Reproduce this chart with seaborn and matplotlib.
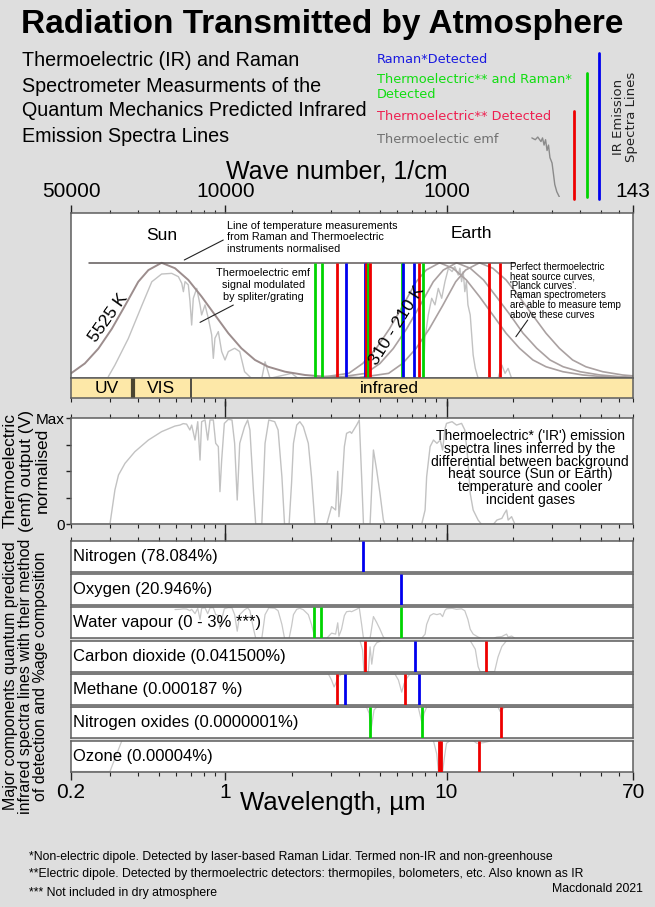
import matplotlib
matplotlib.use("Agg")
import matplotlib.pyplot as plt
import matplotlib.ticker as mticker
import numpy as np
import seaborn as sns

# ---------------- data (wavelength in micrometres) ----------------
WL_MIN, WL_MAX = 0.2, 70
label_wl = [0.2, 1, 10, 70]
wavenumber_labels = ["50000", "10000", "1000", "143"]
wavelength_labels = ["0.2", "1", "10", "70"]

# Planck curves (normalised height in the top panel)
sun_wl = [0.2, 0.231, 0.266, 0.306, 0.351, 0.403, 0.448, 0.514, 0.591, 0.679, 0.78,
          0.896, 1.03, 1.18, 1.36, 1.56, 1.86, 2.29, 2.82, 4.0, 6.0]
sun_val = [0.03, 0.09, 0.18, 0.30, 0.44, 0.585, 0.656, 0.70, 0.667, 0.596, 0.495,
           0.384, 0.273, 0.182, 0.111, 0.07, 0.04, 0.02, 0.01, 0.003, 0.0]
earth_val = [0.005, 0.03, 0.09, 0.18, 0.30, 0.44, 0.585, 0.656, 0.70, 0.667, 0.596,
             0.495, 0.384, 0.273, 0.182, 0.111, 0.07, 0.04, 0.02, 0.01, 0.003]
earth310_wl = [2.68, 3.61, 4.18, 4.80, 5.52, 6.34, 7.29, 8.09, 9.30, 10.7, 12.3,
               14.1, 16.2, 18.6, 21.4, 24.6, 28.2, 33.6, 41.4, 50.9, 70]
earth260_wl = [3.20, 4.31, 5.00, 5.74, 6.60, 7.58, 8.71, 9.67, 11.1, 12.8, 14.7,
               16.8, 19.4, 22.2, 25.6, 29.4, 33.7, 40.2, 49.5, 60.8, 83.6]
earth210_wl = [4.06, 5.47, 6.33, 7.27, 8.36, 9.60, 11.0, 12.2, 14.1, 16.2, 18.6,
               21.3, 24.5, 28.2, 32.4, 37.2, 42.7, 50.9, 62.7, 77.1, 106]
norm_line_wl = [0.241, 20.4]
norm_line_val = [0.70, 0.70]

# thermoelectric emf measured under the Sun and Earth curves
sun_emf_wl = [0.295, 0.316, 0.363, 0.418, 0.464, 0.514, 0.571, 0.612, 0.634, 0.645,
              0.656, 0.679, 0.691, 0.703, 0.715, 0.741, 0.767, 0.78, 0.808, 0.836,
              0.866, 0.881, 0.896, 0.928, 0.961, 0.995, 1.03, 1.10, 1.16, 1.22,
              1.31, 1.46, 1.51, 1.59, 1.99, 2.13]
sun_emf_val = [0.01, 0.08, 0.24, 0.44, 0.585, 0.632, 0.636, 0.616, 0.576, 0.525,
               0.586, 0.566, 0.465, 0.323, 0.485, 0.545, 0.445, 0.384, 0.445, 0.364,
               0.263, 0.121, 0.243, 0.283, 0.162, 0.111, 0.162, 0.182, 0.162, 0.04,
               0.0, 0.0, 0.10, 0.0, 0.03, 0.0]
earth_emf_wl = [7.85, 7.99, 8.27, 8.57, 8.87, 9.18, 9.51, 9.84, 10.2, 10.6, 10.9,
                11.3, 11.5, 11.7, 11.9, 12.1, 12.3, 12.5, 12.8, 13.0, 13.2, 13.5,
                13.9, 17.1, 17.8, 18.4, 19.0, 19.7]
earth_emf_val = [0.0, 0.242, 0.384, 0.485, 0.445, 0.545, 0.485, 0.586, 0.667, 0.647,
                 0.677, 0.626, 0.667, 0.586, 0.647, 0.525, 0.586, 0.445, 0.384, 0.263,
                 0.141, 0.06, 0.0, 0.0, 0.08, 0.03, 0.06, 0.0]

# spectral lines drawn in the top panel
top_lines_wl = [2.54, 2.73, 3.21, 3.50, 4.27, 4.33, 4.42, 4.50, 6.27, 6.38, 7.14,
                7.50, 7.79, 15.6, 17.5]
top_lines_kind = ["both", "both", "thermo", "raman", "raman", "thermo", "both", "thermo",
                  "both", "raman", "raman", "thermo", "both", "thermo", "thermo"]

# spectral bands
band_edges = [0.2, 0.38, 0.70, 70]
band_names = ["UV", "VIS", "infrared"]
band_label_wl = [0.29, 0.51, 5.5]

# middle panel: thermoelectric output (normalised)
emf_wl = [0.2, 0.300, 0.316, 0.328, 0.351, 0.389, 0.448, 0.514, 0.591, 0.622, 0.644,
          0.667, 0.69, 0.703, 0.728, 0.749, 0.767, 0.78, 0.808, 0.831, 0.851, 0.881,
          0.903, 0.928, 0.944, 0.961, 0.988, 1.03, 1.07, 1.10, 1.13, 1.16, 1.22,
          1.26, 1.29, 1.34, 1.37, 1.46, 1.51, 1.57, 1.67, 1.73, 1.80, 1.85, 1.94,
          1.99, 2.03, 2.10, 2.17, 2.25, 2.37, 2.45, 2.54, 2.87, 3.02, 3.15, 3.22,
          3.26, 3.35, 3.45, 3.53, 3.66, 3.72, 3.92, 4.03, 4.13, 4.21, 4.51, 4.67,
          4.83, 5.0, 5.18, 5.27, 7.72, 8.0, 8.13, 8.43, 8.73, 9.05, 9.37, 9.6, 9.84,
          10.0, 10.6, 11.1, 11.7, 12.1, 12.5, 12.8, 13.2, 13.9, 14.4, 16.3, 16.9,
          17.8, 18.3, 18.7, 19.0, 19.7, 20.4, 70]
emf_val = [0, 0, 0.324, 0.465, 0.575, 0.685, 0.795, 0.874, 0.927, 0.936, 0.95,
           0.945, 0.89, 0.936, 0.795, 0.968, 0.606, 0.968, 0.984, 0.795, 0.984, 0.984,
           0.764, 0.733, 0.308, 0.606, 0.952, 0.99, 0.984, 0.764, 0.229, 0.764, 0.921,
           0.984, 0.89, 0.292, 0, 0, 0.764, 0.984, 0.968, 0.89, 0.448, 0, 0,
           0.385, 0.764, 0.936, 0.968, 0.921, 0.764, 0.448, 0, 0, 0.167, 0.135, 0.5,
           0.072, 0.292, 0.733, 0.858, 0.874, 0.858, 0.936, 0.984, 0.448, 0, 0, 0.701,
           0.512, 0.292, 0.04, 0, 0, 0.135, 0.448, 0.733, 0.795, 0.764, 0.795, 0.70, 0.9,
           0.952, 0.968, 0.936, 0.952, 0.89, 0.606, 0.292, 0.135, 0.04, 0, 0, 0.04,
           0.056, 0.104, 0.135, 0.04, 0.072, 0, 0]

# gases: label, spectral lines and their detection method
gas_names = ["Nitrogen (78.084%)", "Oxygen (20.946%)", "Water vapour (0 - 3% ***)",
             "Carbon dioxide (0.041500%)", "Methane (0.000187 %)",
             "Nitrogen oxides (0.0000001%)", "Ozone (0.00004%)"]
n2_lines = [4.2]
n2_kind = ["raman"]
o2_lines = [6.2]
o2_kind = ["raman"]
h2o_lines = [2.52, 2.71, 6.2]
h2o_kind = ["both", "both", "both"]
co2_lines = [4.27, 7.21, 15.05]
co2_kind = ["thermo", "raman", "thermo"]
ch4_lines = [3.18, 3.48, 6.49, 7.5]
ch4_kind = ["thermo", "raman", "thermo", "raman"]
nox_lines = [4.52, 7.72, 17.6]
nox_kind = ["both", "both", "thermo"]
o3_lines = [9.25, 9.45, 14.1]
o3_kind = ["thermo", "thermo", "thermo"]

# faint absorption traces behind the gas rows
co2_wl = [0.2, 4.06, 4.17, 4.23, 4.43, 4.51, 4.59, 4.70, 4.83, 5.09, 12.8, 13.5, 13.9,
          14.2, 16.5, 17.1, 17.8, 18.7, 70]
co2_gray = [1, 1, 0.70, 0, 0, 0.8, 0.24, 0.8, 0.93, 1, 1, 0.72, 0.16, 0, 0, 0.47, 0.81, 1, 1]
ch4_wl = [0.2, 2.92, 3.02, 3.10, 3.16, 3.24, 3.36, 5.84, 6.06, 6.27, 6.43, 6.61, 6.83, 70]
ch4_gray = [1, 1, 0.8, 0.58, 0.71, 0.91, 1, 1, 0.8, 0.41, 0.69, 0.86, 1, 1]
nox_wl = [0.2, 4.35, 4.47, 4.54, 4.60, 4.70, 4.83, 7.45, 7.63, 7.75, 7.91, 8.13, 17.1,
          17.5, 18.1, 18.4, 70]
nox_gray = [1, 1, 0.8, 0.24, 0.47, 0.91, 1, 1, 0.69, 0.47, 0.8, 1, 1, 0.86, 0.97, 1, 1]
o3_wl = [0.2, 0.30, 0.34, 8.72, 9.03, 9.19, 9.61, 9.78, 10.0, 10.4, 13.2, 13.7, 14.7,
         15.5, 16.0, 70]
o3_gray = [0, 0, 1, 1, 0.57, 0, 0, 0.45, 0.91, 1, 1, 0.91, 0.93, 0.97, 1, 1]

footnotes = [
    "*Non-electric dipole. Detected by laser-based Raman Lidar. Termed non-IR and non-greenhouse",
    "**Electric dipole. Detected by thermoelectric detectors: thermopiles, bolometers, etc. Also known as IR",
    "*** Not included in dry atmosphere",
]

# ---------------- style ----------------
BG = "#dedede"
EDGE = "#5e5e5e"
TICK = "#222222"
KIND_COLOR = {"raman": "#0000ee", "both": "#00d400", "thermo": "#ee0000"}
EMF_GRAY = "#c2c2c2"

sns.set_theme(style="white")
plt.rcParams["font.family"] = ["Liberation Sans", "DejaVu Sans"]
plt.rcParams["text.color"] = "black"
plt.rcParams["xtick.color"] = TICK
plt.rcParams["ytick.color"] = TICK
plt.rcParams["xtick.labelcolor"] = "black"
plt.rcParams["ytick.labelcolor"] = "black"

W, H = 655, 907
fig = plt.figure(figsize=(W / 100, H / 100), dpi=100, facecolor=BG)


def rect(top, height, left=71, width=562.3):
    return [left / W, 1 - (top + height) / H, width / W, height / H]


def fy(py):
    return 1 - py / H


def wl_axis(ax, majors):
    ax.set_xscale("log")
    ax.set_xlim(WL_MIN, WL_MAX)
    ax.set_ylim(0, 1)
    ax.xaxis.set_major_locator(mticker.FixedLocator(majors))
    ax.xaxis.set_major_formatter(mticker.NullFormatter())
    ax.xaxis.set_minor_locator(mticker.LogLocator(base=10, subs=np.arange(2, 10), numticks=30))
    ax.xaxis.set_minor_formatter(mticker.NullFormatter())
    ax.set_yticks([])
    ax.set_xlabel("")
    ax.set_ylabel("")
    for s in ax.spines.values():
        s.set_color(EDGE)
        s.set_linewidth(1.1)


def line(ax, x, y, color, lw, z=2):
    sns.lineplot(x=x, y=y, ax=ax, color=color, linewidth=lw, sort=False,
                 estimator=None, zorder=z)
    ax.set_xlabel("")
    ax.set_ylabel("")


def spectral_lines(ax, wl, kinds, top=1.0, lw=2.0):
    ax.vlines(wl, 0, top, colors=[KIND_COLOR[k] for k in kinds], linewidth=lw, zorder=3)


# ---------------- headings ----------------
fig.text(322 / W, fy(25), "Radiation Transmitted by Atmosphere", ha="center", va="center",
         fontsize=24, fontweight="bold")
for txt, py in zip(["Thermoelectric (IR) and Raman", "Spectrometer Measurments of the",
                    "Quantum Mechanics Predicted Infrared", "Emission Spectra Lines"],
                   [61, 86, 110.5, 136]):
    fig.text(22 / W, fy(py), txt, ha="left", va="center", fontsize=14.2)

legend_items = [("Raman*Detected", "#1a1ae0", 59.3),
                ("Thermoelectric** and Raman*", "#11dd11", 79.3),
                ("Detected", "#11dd11", 95),
                ("Thermoelectric** Detected", "#ee2050", 116.7),
                ("Thermoelectic emf", "#707070", 139.3)]
for txt, col, py in legend_items:
    fig.text(377 / W, fy(py), txt, ha="left", va="center", fontsize=9.3, color=col,
             family="DejaVu Sans")
fig.text(625 / W, fy(117), "IR Emission\nSpectra Lines", rotation=90, ha="center",
         va="center", fontsize=9.5, family="DejaVu Sans", color="#222222", linespacing=1.1)

fig.text(337 / W, fy(172), "Wave number, 1/cm", ha="center", va="center", fontsize=18)

# legend swatches
ov = fig.add_axes([0, 0, 1, 1], facecolor="none")
ov.set_xlim(0, W)
ov.set_ylim(H, 0)
ov.axis("off")
ov.plot([574, 574], [111, 199], color=KIND_COLOR["thermo"], lw=2)
ov.plot([587.3, 587.3], [72.7, 197.3], color=KIND_COLOR["both"], lw=2)
ov.plot([599.3, 599.3], [52.7, 198.7], color=KIND_COLOR["raman"], lw=2)

sw = fig.add_axes(rect(135, 62, left=531, width=29), facecolor="none")
sel = [(w, v) for w, v in zip(earth_emf_wl, earth_emf_val) if 10.1 < w < 14]
line(sw, [w for w, _ in sel], [v for _, v in sel], "#8a8a8a", 1.0)
sw.set_xscale("log")
sw.set_xlim(10.1, 14.0)
sw.set_ylim(0, 0.7)
sw.axis("off")

# ---------------- top panel: Planck curves ----------------
ax = fig.add_axes(rect(213.3, 165))
ax.set_facecolor("white")
wl_axis(ax, label_wl)
ax.tick_params(axis="x", which="both", bottom=False, top=True, labelbottom=False,
               labeltop=True, direction="out")
ax.tick_params(axis="x", which="major", length=5.5, width=1, pad=3, labelsize=15)
ax.tick_params(axis="x", which="minor", length=2.5, width=0.8)
ax.xaxis.set_major_formatter(mticker.FixedFormatter(wavenumber_labels))

line(ax, sun_emf_wl, sun_emf_val, EMF_GRAY, 1.0)
line(ax, earth_emf_wl, earth_emf_val, EMF_GRAY, 1.0)
line(ax, sun_wl, sun_val, "#9c8d8d", 1.4)
for wl in (earth310_wl, earth260_wl, earth210_wl):
    line(ax, wl, earth_val, "#aaa1a1", 1.2)
line(ax, norm_line_wl, norm_line_val, "#5f5858", 1.1)
spectral_lines(ax, top_lines_wl, top_lines_kind, top=0.70, lw=2.0)

ax.text(0.514, 0.864, "Sun", ha="center", va="center", fontsize=12.5)
ax.text(12.9, 0.879, "Earth", ha="center", va="center", fontsize=12.5)
ax.text(1.02, 0.855, "Line of temperature measurements\nfrom Raman and Thermoelectric\n"
        "instruments normalised", ha="left", va="center", fontsize=7.8, linespacing=1.2)
ax.plot([0.651, 0.977], [0.717, 0.838], color="#222222", lw=0.8)
ax.text(1.48, 0.565, "Thermoelectric emf\nsignal modulated\nby spliter/grating",
        ha="center", va="center", fontsize=7.8, linespacing=1.2)
ax.plot([0.767, 1.085], [0.339, 0.444], color="#222222", lw=0.8)
ax.text(19.4, 0.532, "Perfect thermoelectric\nheat source curves,\n'Planck curves'.\n"
        "Raman spectrometers\nare able to measure temp\nabove these curves",
        ha="left", va="center", fontsize=7, linespacing=0.95)
ax.plot([20.6, 23.3], [0.252, 0.353], color="#222222", lw=0.8)
ax.text(0.295, 0.364, "5525 K", rotation=54.5, ha="center", va="center", fontsize=12.5)
ax.text(6.0, 0.318, "310 - 210 K", rotation=58, ha="center", va="center", fontsize=12.5)

# band strip
bx = fig.add_axes(rect(378.3, 19.4))
wl_axis(bx, [1, 10])
bx.set_facecolor("#fde8a8")
bx.tick_params(axis="x", which="both", bottom=True, top=False, labelbottom=False,
               direction="out")
bx.tick_params(axis="x", which="major", length=6, width=1)
bx.tick_params(axis="x", which="minor", length=3, width=0.8)
bx.vlines(band_edges[1], 0, 1, colors="#4a4530", linewidth=3)
bx.vlines(band_edges[2], 0, 1, colors="#333333", linewidth=1.2)
for name, wl in zip(band_names, band_label_wl):
    bx.text(wl, 0.45, name, ha="center", va="center", fontsize=12.5)

# ---------------- middle panel: thermoelectric output ----------------
mx = fig.add_axes(rect(418.3, 106))
mx.set_facecolor("white")
wl_axis(mx, [1, 10])
mx.tick_params(axis="x", which="both", bottom=True, top=True, labelbottom=False,
               direction="out")
mx.tick_params(axis="x", which="major", length=12, width=1)
mx.tick_params(axis="x", which="minor", length=3, width=0.8)
mx.set_yticks([0, 0.25, 0.5, 0.75, 1])
mx.set_yticklabels(["0", "", "", "", "Max"])
mx.tick_params(axis="y", left=True, length=3.5, width=1, labelsize=11, pad=1)
line(mx, emf_wl, emf_val, EMF_GRAY, 1.0)
mx.text(23.9, 0.531, "Thermoelectric* ('IR') emission\nspectra lines inferred by the\n"
        "differential between background\nheat source (Sun or Earth)\n"
        "temperature and cooler\nincident gases", ha="center", va="center",
        fontsize=10, linespacing=0.9)
# y label, one text per line so the short last line keeps clear of "Max"
for txt, px in zip(["Thermoelectric", "(emf) output (V)", "normalised"], [10.5, 26.5, 42]):
    fig.text(px / W, fy(470.5), txt, rotation=90, ha="center", va="center", fontsize=12.5)

# ---------------- gas rows ----------------
gas_lines = [(n2_lines, n2_kind), (o2_lines, o2_kind), (h2o_lines, h2o_kind),
             (co2_lines, co2_kind), (ch4_lines, ch4_kind), (nox_lines, nox_kind),
             (o3_lines, o3_kind)]
gas_traces = {2: ([w for w in emf_wl if w > 0.55], [v for w, v in zip(emf_wl, emf_val) if w > 0.55]),
              3: (co2_wl, co2_gray), 4: (ch4_wl, ch4_gray), 5: (nox_wl, nox_gray),
              6: (o3_wl, o3_gray)}
for i, (name, (wls, kinds)) in enumerate(zip(gas_names, gas_lines)):
    gx = fig.add_axes(rect(540.7 + i * 33.3, 31))
    gx.set_facecolor("white")
    last = i == len(gas_names) - 1
    wl_axis(gx, label_wl if last else [1, 10])
    gx.tick_params(axis="x", which="both", direction="out", bottom=last, top=(i == 0),
                   labelbottom=last, labeltop=False)
    gx.tick_params(axis="x", which="major", length=6, width=1, pad=2, labelsize=15)
    gx.tick_params(axis="x", which="minor", length=3, width=0.8)
    if last:
        gx.xaxis.set_major_formatter(mticker.FixedFormatter(wavelength_labels))
    if i in gas_traces:
        tx, ty = gas_traces[i]
        line(gx, tx, ty, "#c8c8c8", 0.9)
    spectral_lines(gx, wls, kinds, lw=2.0)
    gx.text(0.004, 0.5, name, transform=gx.transAxes, ha="left", va="center", fontsize=12)

fig.text(26 / W, fy(676), "Major components quantum predicted\n"
         "infrared spectra lines with their method\nof detection and %age composition",
         rotation=90, ha="center", va="center", fontsize=11.5, linespacing=1.0)
fig.text(333 / W, fy(803), "Wavelength, µm", ha="center", va="center", fontsize=18.5)

for txt, py in zip(footnotes, [857, 874.5, 893]):
    fig.text(29 / W, fy(py), txt, ha="left", va="center", fontsize=8.8)
fig.text(643 / W, fy(889), "Macdonald 2021", ha="right", va="center", fontsize=8.8)

fig.savefig("out.png", dpi=100, facecolor=BG)
